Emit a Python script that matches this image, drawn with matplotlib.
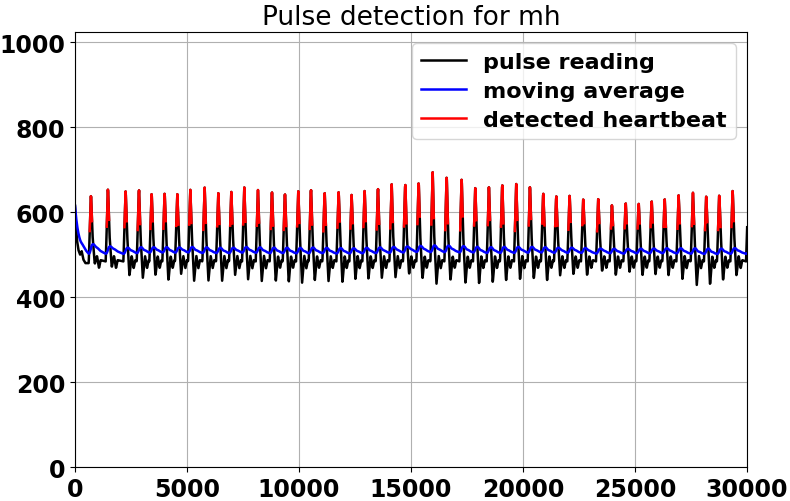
import numpy as np
import pandas as pd
import matplotlib
matplotlib.use("Agg")
import matplotlib.pyplot as plt

# raw readings before the first beat (time in ms, sensor value)
lead_t = [0, 40, 100, 160, 230, 300, 380, 470, 614]
lead_v = [615, 570, 530, 510, 500, 508, 488, 480, 480]

# one entry per beat: time of the peak, peak value, lowest point after it
peak_t = [714, 1473, 2262, 2857, 3423, 4003, 4568, 5149, 5788, 6399, 6979, 7560,
          8170, 8795, 9375, 9970, 10536, 11147, 11772, 12351, 12932, 13527, 14138,
          14746, 15344, 15969, 16594, 17263, 17872, 18482, 19076, 19701, 20313,
          20906, 21487, 22083, 22693, 23363, 23973, 24585, 25165, 25745, 26326,
          26951, 27589, 28183, 28764, 29362, 30060]
peak_v = [644, 658, 652, 656, 647, 648, 645, 654, 661, 646, 649, 658,
          652, 654, 649, 649, 658, 649, 650, 642, 653, 659, 669,
          671, 675, 696, 689, 682, 660, 662, 670, 668, 664,
          649, 641, 643, 634, 635, 620, 626, 625, 631, 635,
          641, 647, 641, 645, 653, 645]
trough_v = [478, 470, 450, 444, 450, 438, 454, 438, 438, 438, 452, 442,
            438, 436, 434, 434, 438, 436, 434, 442, 442, 444, 446,
            454, 442, 431, 438, 431, 431, 434, 438, 442, 442,
            438, 450, 452, 450, 460, 450, 458, 450, 452, 450,
            442, 428, 428, 438, 450, 445]

# wave shape after each peak: offset (ms) and level, None = that beat's trough
after_ms = [70, 170, 270, 360, 430]
after_v = [545, None, 497, 468, 487]
rise_ms = 100   # the upstroke starts this long before the next peak
rise_v = 484

# build the pulse reading from the beats
t_key = list(lead_t)
v_key = list(lead_v)
for i, (pt, pv) in enumerate(zip(peak_t, peak_v)):
    if i > 0:
        t_key.append(pt - rise_ms)
        v_key.append(rise_v)
    t_key.append(pt)
    v_key.append(pv)
    for off, lev in zip(after_ms, after_v):
        t_key.append(pt + off)
        v_key.append(trough_v[i] if lev is None else lev)

t = np.arange(0, 30600, 10)
sig = np.interp(t, t_key, v_key)

# exponential moving average and beats above 110% of it
mov = pd.Series(sig).ewm(alpha=0.01).mean().values
beat = np.where(sig > mov * 1.1, sig, np.nan)

plt.rcParams["font.weight"] = "bold"

fig = plt.figure(figsize=(7.9, 5.02), dpi=100)
ax = fig.add_axes([0.0949, 0.0677, 0.8506, 0.8665])
ax.plot(t, sig, color="black", lw=1.8, label="pulse reading")
ax.plot(t, mov, color="blue", lw=1.8, label="moving average")
ax.plot(t, beat, color="red", lw=1.8, label="detected heartbeat")

ax.set_xlim(0, 30000)
ax.set_ylim(0, 1024)
ax.set_xticks(range(0, 30001, 5000))
ax.set_yticks(range(0, 1001, 200))
ax.tick_params(labelsize=17)
ax.grid(True)
ax.set_title("Pulse detection for mh", fontsize=19, fontweight="normal")
ax.legend(loc="upper right", fontsize=16, labelspacing=0.4)

fig.savefig("out.png", dpi=100)
